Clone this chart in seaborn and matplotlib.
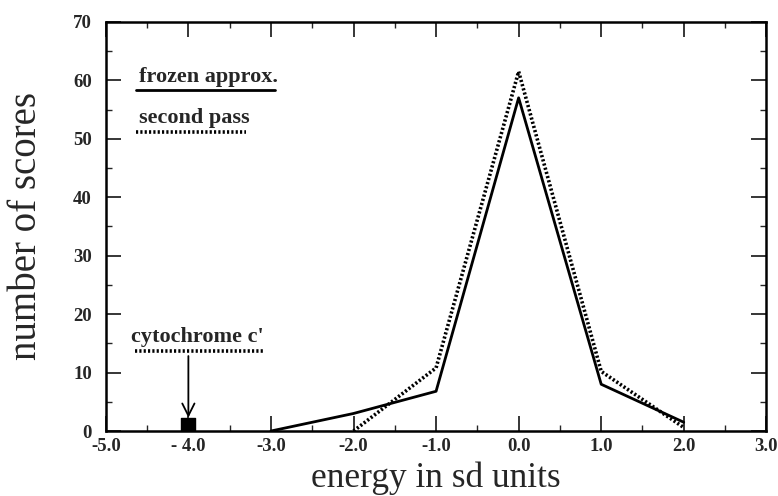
import matplotlib
matplotlib.use("Agg")
import matplotlib.pyplot as plt
import seaborn as sns
import pandas as pd
from matplotlib.ticker import MultipleLocator

# data
energy_frozen = [-3.0, -2.0, -1.0, 0.0, 1.0, 2.0]
scores_frozen = [0.0, 3.0, 6.8, 57.0, 8.0, 1.5]
energy_second = [-2.0, -1.0, 0.0, 1.0, 2.0]
scores_second = [0.0, 10.8, 61.5, 10.2, 0.6]
native_energy = [-4.0]
native_score = [1.0]
x_ticks = [-5.0, -4.0, -3.0, -2.0, -1.0, 0.0, 1.0, 2.0, 3.0]
x_tick_labels = ["-5.0", "- 4.0", "-3.0", "-2.0", "-1.0", "0.0", "1.0", "2.0", "3.0"]
y_ticks = [0, 10, 20, 30, 40, 50, 60, 70]

sns.set_theme(style="ticks")
plt.rcParams["font.family"] = ["Liberation Serif", "DejaVu Serif"]

fig = plt.figure(figsize=(7.78, 4.96), dpi=100)
ax = fig.add_axes([0.136, 0.131, 0.849, 0.825])

df1 = pd.DataFrame({"energy": energy_frozen, "scores": scores_frozen})
df2 = pd.DataFrame({"energy": energy_second, "scores": scores_second})
sns.lineplot(data=df1, x="energy", y="scores", ax=ax, color="black", lw=2.0)
sns.lineplot(data=df2, x="energy", y="scores", ax=ax, color="black", lw=2.6,
             linestyle=(0, (0.6, 0.6)))
ax.scatter(native_energy, native_score, marker="s", s=110, color="black", zorder=5)

ax.set_xlim(-5.0, 3.0)
ax.set_ylim(0, 70)
ax.set_xticks(x_ticks)
ax.set_xticklabels(x_tick_labels)
ax.set_yticks(y_ticks)
ax.xaxis.set_minor_locator(MultipleLocator(0.5))
ax.yaxis.set_minor_locator(MultipleLocator(5))
ax.tick_params(which="major", direction="in", length=11, width=1.3,
               top=True, right=True, labelsize=13.5)
ax.tick_params(axis="x", which="major", pad=5)
ax.tick_params(axis="y", which="major", pad=10)
ax.tick_params(which="minor", direction="in", length=4, width=1.0,
               top=True, right=True)
for lab in ax.get_xticklabels() + ax.get_yticklabels():
    lab.set_fontweight("bold")
for s in ax.spines.values():
    s.set_linewidth(1.8)
    s.set_color("black")

ax.set_xlabel("energy in sd units", fontsize=25.5, labelpad=5)
ax.set_ylabel("number of scores", fontsize=28, labelpad=20)

# legend-like annotations
ax.text(-4.6, 58.9, "frozen approx.", fontsize=16, fontweight="bold", va="bottom")
ax.plot([-4.63, -2.95], [58.4, 58.4], color="black", lw=2.0)
ax.text(-4.6, 51.8, "second pass", fontsize=16, fontweight="bold", va="bottom")
ax.plot([-4.63, -3.3], [51.2, 51.2], color="black", lw=2.6, linestyle=(0, (0.6, 0.6)))

ax.text(-4.7, 14.3, "cytochrome c'", fontsize=16, fontweight="bold", va="bottom")
ax.plot([-4.65, -3.1], [13.7, 13.7], color="black", lw=2.6, linestyle=(0, (0.6, 0.6)))
ax.annotate("", xy=(-4.0, 1.8), xytext=(-4.0, 13.3),
            arrowprops=dict(arrowstyle="->", color="black", lw=1.3,
                            mutation_scale=22))

fig.savefig("out.png", dpi=100)
